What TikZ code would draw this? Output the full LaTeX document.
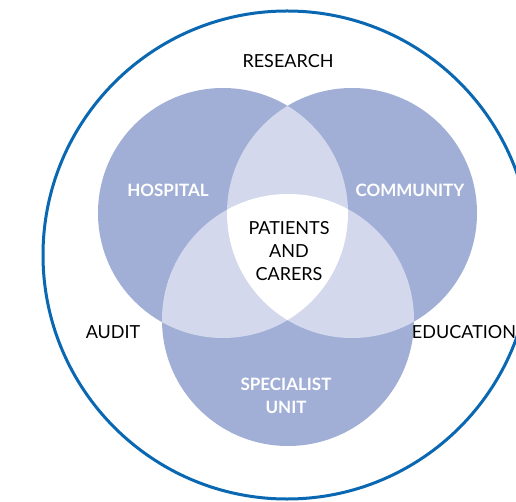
\documentclass[tikz,border=0pt]{standalone}
\usepackage{fontspec}
\setmainfont{Lato}
\definecolor{ringblue}{HTML}{0A68B2}
\definecolor{dark}{HTML}{A1AFD6}
\definecolor{light}{HTML}{D3D8EC}
\tikzset{
  lbl/.style={text=black, font=\fontsize{18}{23}\selectfont, align=center, inner sep=0pt},
  wlbl/.style={text=white, font=\fontsize{17}{23}\selectfont\bfseries, align=center, inner sep=0pt},
}
\begin{document}
\begin{tikzpicture}[x=1pt,y=-1pt]
\useasboundingbox (0,0) rectangle (516,502);
\clip (0,0) rectangle (516,502);
\fill[white] (0,0) rectangle (516,502);
\coordinate (O) at (287,255);
\coordinate (H) at (223,213);
\coordinate (C) at (352,213);
\coordinate (S) at (288,320);
\draw[ringblue, line width=3pt] (O) circle (244);
\fill[dark] (H) circle (125);
\fill[dark] (C) circle (125);
\fill[dark] (S) circle (126);
\begin{scope}
  \clip (H) circle (125);
  \fill[light] (C) circle (125);
  \fill[light] (S) circle (126);
\end{scope}
\begin{scope}
  \clip (C) circle (125);
  \fill[light] (S) circle (126);
\end{scope}
\begin{scope}
  \clip (H) circle (125);
  \clip (C) circle (125);
  \fill[white] (S) circle (126);
\end{scope}
\node[lbl] (research) at (288,61) {RESEARCH};
\node[wlbl] (hospital) at (168,190) {HOSPITAL};
\node[wlbl] (community) at (410,190) {COMMUNITY};
\node[lbl] (patients) at (289,251) {PATIENTS\\AND\\CARERS};
\node[lbl] (audit) at (113,332) {AUDIT};
\node[lbl] (education) at (464,332) {EDUCATION};
\node[wlbl] (specialist) at (286,396) {SPECIALIST\\UNIT};
\end{tikzpicture}
\end{document}
